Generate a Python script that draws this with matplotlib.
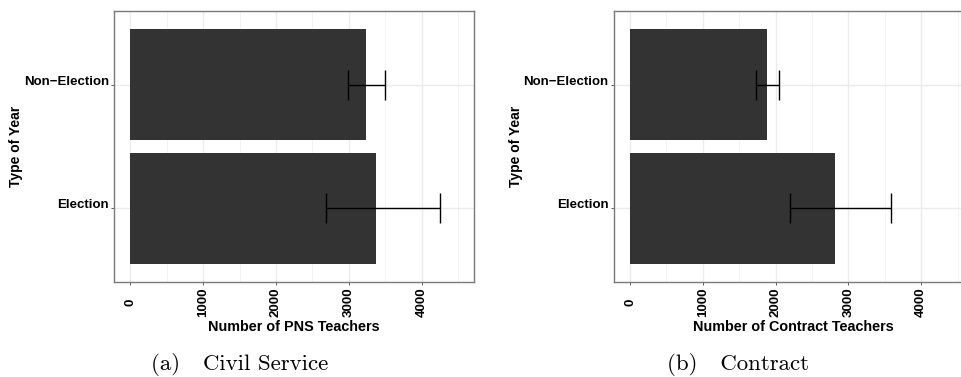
import matplotlib
matplotlib.use("Agg")
import matplotlib.pyplot as plt
from matplotlib.ticker import MultipleLocator
import numpy as np

categories = ["Election", "Non\u2212Election"]

pns_means = [3374, 3242]
pns_lower = [2683, 2985]
pns_upper = [4249, 3503]

contract_means = [2810, 1887]
contract_lower = [2198, 1730]
contract_upper = [3581, 2052]

xticks = [0, 1000, 2000, 3000, 4000]
xlabels = ["Number of PNS Teachers", "Number of Contract Teachers"]
captions = [("(a)", "Civil Service"), ("(b)", "Contract")]

plt.rcParams['font.family'] = ['Liberation Sans', 'DejaVu Sans']

fig = plt.figure(figsize=(9.62, 3.77), dpi=100)
W, H = 962, 377

def px_axes(left, top, width, height):
    return fig.add_axes([left / W, 1 - (top + height) / H, width / W, height / H])

panels = [
    (114, pns_means, pns_lower, pns_upper, xlabels[0], captions[0], 240),
    (613.7, contract_means, contract_lower, contract_upper, xlabels[1], captions[1], 738),
]

for left, means, lo, hi, xlabel, cap, capx in panels:
    ax = px_axes(left, 11, 360.3, 271)
    y = np.arange(1, len(categories) + 1)
    ax.set_axisbelow(True)
    ax.barh(y, means, height=0.9, color="#333333", zorder=2)
    ax.hlines(y, lo, hi, color="black", lw=1.0, zorder=3)
    ax.vlines(lo, y - 0.125, y + 0.125, color="black", lw=1.0, zorder=3)
    ax.vlines(hi, y - 0.125, y + 0.125, color="black", lw=1.0, zorder=3)
    ax.set_xlim(-225, 4725)
    ax.set_ylim(0.4, 2.6)
    ax.set_xticks(xticks)
    ax.set_xticklabels([str(t) for t in xticks], rotation=90, fontweight="bold",
                       fontsize=9.5, va="center")
    ax.xaxis.set_minor_locator(MultipleLocator(500))
    ax.set_yticks(y)
    ax.set_yticklabels(categories, fontweight="bold", fontsize=9.5, va="baseline")
    ax.grid(which="major", color="#ebebeb", lw=1.0)
    ax.grid(which="minor", axis="x", color="#f3f3f3", lw=0.6)
    ax.tick_params(which="major", length=2.2, width=0.6, color="#444444", labelcolor="black")
    ax.tick_params(axis="x", which="major", pad=12.2)
    ax.tick_params(axis="y", which="major", pad=1.5)
    ax.tick_params(which="minor", length=0)
    for s in ax.spines.values():
        s.set_color("#7a7a7a")
        s.set_linewidth(1.0)
    ax.set_xlabel(xlabel, fontweight="bold", fontsize=10.4, labelpad=2)
    ax.set_ylabel("Type of Year", fontweight="bold", fontsize=10, labelpad=0.5)
    fig.text(capx / W, 1 - 364 / H, cap[0] + "   " + cap[1], ha="center", va="center",
             fontsize=16.5, family="cmr10")

fig.savefig("out.png", dpi=100)
